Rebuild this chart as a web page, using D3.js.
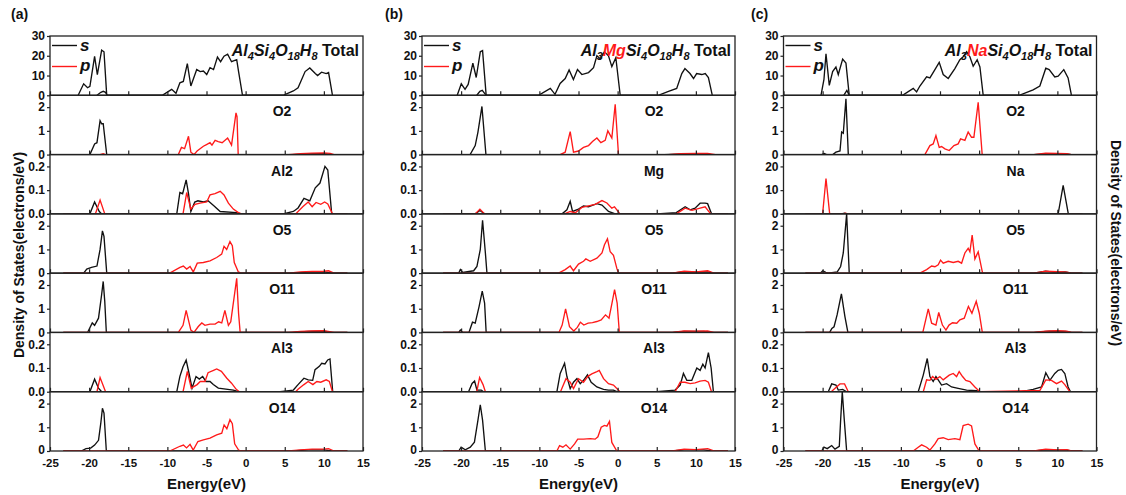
<!DOCTYPE html>
<html>
<head>
<meta charset="utf-8">
<script src="https://cdn.jsdelivr.net/npm/d3@7"></script>
<style>
  body { margin: 0; background: #fff; }
  text { font-family: "Liberation Sans", Arial, sans-serif; font-weight: bold; fill: #111; }
</style>
</head>
<body>
<script>
'use strict';

// ---- axis / labels ----
var energyTicks = [-25, -20, -15, -10, -5, 0, 5, 10, 15];
var panelTags = ['(a)', '(b)', '(c)'];
var siteNames = [
  ['O2', 'Al2', 'O5', 'O11', 'Al3', 'O14'],
  ['O2', 'Mg', 'O5', 'O11', 'Al3', 'O14'],
  ['O2', 'Na', 'O5', 'O11', 'Al3', 'O14']
];
var baselineSpans = [[-23.3, 13], [-22.3, 14.1], [-22.2, 13.2]];
var formulas = [
  [['Al'], ['4', 'sub'], ['Si'], ['4', 'sub'], ['O'], ['18', 'sub'], ['H'], ['8', 'sub']],
  [['Al'], ['3', 'sub'], ['Mg', 'red'], ['Si'], ['4', 'sub'], ['O'], ['18', 'sub'], ['H'], ['8', 'sub']],
  [['Al'], ['3', 'sub'], ['Na', 'red'], ['Si'], ['4', 'sub'], ['O'], ['18', 'sub'], ['H'], ['8', 'sub']]
];

// ---- (a) Al4Si4O18H8 ----
var aTotal = [[-21.4,0],[-20.7,5.8],[-20.2,3.8],[-19.9,4.5],[-19.3,19.7],[-18.95,10.5],[-18.4,22.8],[-18.1,22],[-17.75,0],
  [-10.65,0],[-9.45,3],[-8.9,1],[-8.4,6.3],[-7.96,7],[-7.45,16],[-7.0,4.7],[-6.25,13],[-5.8,12],[-5.4,12.3],[-4.97,10.5],[-4.55,14],[-4.1,13],[-3.6,19.3],[-3.2,17],[-2.76,19.8],[-2.3,20.8],[-1.8,17],[-1.14,18],[-0.9,12],[-0.4,0],
  [4.8,0],[6.1,2.2],[6.7,3.8],[7.6,12],[8.2,13.8],[8.9,11],[9.2,10],[9.7,11.7],[10.3,11],[10.6,11.5],[11.1,0]];
var aTotalLow = [[-19,0],[-18.5,1.5],[-18.2,2],[-17.9,1.5],[-17.7,0]];
var aO2s = [[-19.9,0],[-19.3,0.45],[-19.0,0.5],[-18.6,1.43],[-18.4,1.3],[-18.2,1.3],[-17.75,0],[6,0],[8,0.03],[10,0.04],[11,0]];
var aO2p = [[-18.6,0],[-18.2,0.04],[-17.9,0],[-8.6,0],[-8.2,0.3],[-7.8,0.25],[-7.3,0.77],[-7.0,0.1],[-6.6,0],[-6.2,0.15],[-5.4,0.35],[-5.0,0.42],[-4.55,0.5],[-4.3,0.4],[-3.9,0.6],[-3.5,0.55],[-3.0,0.5],[-2.3,0.7],[-1.8,0.4],[-1.23,1.76],[-1.1,1.6],[-0.95,0],[5.5,0],[7,0.04],[8.5,0.06],[10,0.07],[10.8,0.05],[11.3,0]];
var aAl2s = [[-19.9,0],[-19.3,0.05],[-18.7,0.01],[-18.4,0],[-8.8,0],[-8.4,0.09],[-8.05,0.085],[-7.6,0.143],[-7.3,0.085],[-7.0,0.01],[-6.5,0.05],[-6.1,0.055],[-5.4,0.05],[-4.8,0.055],[-4.1,0.035],[-3.25,0.01],[-1.2,0.005],[-0.55,0],[4.8,0],[6.1,0.01],[6.7,0.025],[7.46,0.065],[8.2,0.055],[8.9,0.11],[9.5,0.13],[10.14,0.2],[10.5,0.185],[11.0,0]];
var aAl2p = [[-19.2,0],[-18.6,0.058],[-18.0,0],[-8.0,0],[-7.53,0.09],[-7.0,0.02],[-6.47,0.04],[-5.83,0.045],[-4.97,0.05],[-4.55,0.08],[-3.91,0.085],[-3.25,0.095],[-2.76,0.08],[-2.2,0.045],[-1.57,0.02],[-0.93,0.005],[-0.5,0],[6.4,0],[7.3,0.03],[8.0,0.05],[8.5,0.03],[9.0,0.048],[9.6,0.04],[10.1,0.05],[10.5,0.042],[11.1,0]];
var aO5s = [[-20.7,0],[-20.3,0.17],[-19.7,0.24],[-19.0,0.3],[-18.6,1.0],[-18.3,1.78],[-18.1,1.55],[-17.75,0],[6,0],[8,0.04],[10,0.05],[11,0]];
var aO5p = [[-9.7,0],[-8.39,0.24],[-7.96,0.3],[-7.53,0.17],[-7.1,0.28],[-6.69,0.05],[-6.18,0.42],[-5.4,0.45],[-4.55,0.52],[-3.7,0.66],[-3.06,0.8],[-2.76,1.13],[-2.42,1.0],[-2.0,1.33],[-1.7,1.16],[-1.45,0.45],[-0.93,0.05],[-0.6,0],[5.5,0],[7,0.05],[8.5,0.07],[10,0.08],[10.6,0.1],[11.3,0]];
var aO11s = [[-20.2,0],[-19.6,0.4],[-19.3,0.3],[-18.8,0.6],[-18.4,1.6],[-18.2,2.15],[-18.0,1.3],[-17.8,0],[6,0],[8,0.04],[10,0.05],[11,0]];
var aO11p = [[-8.6,0],[-8.0,0.3],[-7.6,0.93],[-7.0,0.1],[-6.6,0],[-6.05,0.25],[-5.6,0.4],[-5.2,0.3],[-4.55,0.35],[-3.9,0.35],[-3.45,0.45],[-3.05,0.4],[-2.65,0.93],[-2.2,0.3],[-1.9,0.45],[-1.14,2.28],[-0.9,0.8],[-0.7,0],[5.5,0],[7,0.04],[8.5,0.06],[10,0.07],[11.3,0]];
var aAl3s = [[-19.9,0],[-19.3,0.053],[-18.8,0.015],[-18.4,0],[-8.8,0],[-8.4,0.065],[-8.0,0.105],[-7.6,0.133],[-7.25,0.08],[-6.85,0.015],[-6.34,0.064],[-5.92,0.053],[-5.49,0.064],[-5.06,0.043],[-4.55,0.043],[-4.13,0.03],[-3.49,0.015],[-1.57,0.007],[-0.93,0],[4.4,0],[6.1,0.007],[6.7,0.03],[7.45,0.057],[8.0,0.05],[8.57,0.048],[8.87,0.093],[9.42,0.107],[9.72,0.12],[10.14,0.117],[10.49,0.134],[10.78,0.138],[11.13,0]];
var aAl3p = [[-19.0,0],[-18.6,0.06],[-17.9,0],[-8.0,0],[-7.45,0.086],[-6.95,0.015],[-6.2,0.03],[-5.8,0.043],[-5.2,0.043],[-4.8,0.08],[-4.1,0.09],[-3.7,0.096],[-3.1,0.086],[-2.4,0.057],[-1.8,0.036],[-1.2,0.01],[-0.8,0],[6.4,0],[6.7,0.01],[7.45,0.03],[8.0,0.043],[8.6,0.03],[9.1,0.043],[9.6,0.04],[10.3,0.05],[10.7,0.043],[11.1,0]];
var aO14s = [[-21.0,0],[-20.4,0.1],[-19.8,0.12],[-19.3,0.25],[-18.8,0.45],[-18.5,1.2],[-18.3,1.8],[-18.1,1.6],[-17.8,0],[6,0],[8,0.05],[10,0.05],[11,0]];
var aO14p = [[-9.7,0],[-8.4,0.2],[-7.95,0.25],[-7.55,0.13],[-7.1,0.28],[-6.7,0.04],[-6.1,0.4],[-5.4,0.47],[-4.55,0.54],[-3.7,0.68],[-3.05,0.75],[-2.75,1.1],[-2.4,0.94],[-2.0,1.32],[-1.7,1.15],[-1.4,0.3],[-0.9,0.04],[-0.6,0],[5.5,0],[7,0.05],[8.5,0.08],[10,0.08],[10.6,0.1],[11.3,0]];

// ---- (b) Al3MgSi4O18H8 ----
var bTotal = [[-20.5,0],[-19.98,5.8],[-19.5,3],[-19.1,5.5],[-18.5,16.3],[-18.07,9],[-17.55,22],[-17.26,22.6],[-16.8,0],
  [-10.1,0],[-8.6,3.5],[-8.0,0.5],[-7.35,6],[-6.7,8.5],[-6.2,12.8],[-5.65,8],[-5.13,13],[-4.57,10.5],[-3.72,11.5],[-3.08,14],[-2.65,20],[-2.23,18.5],[-1.68,22],[-1.17,20],[-0.74,14.5],[-0.23,19],[0.33,0],
  [5.2,0],[6.5,2],[7.55,3.5],[8.2,11],[8.6,13.5],[9.25,11],[9.7,8.5],[10.1,11],[10.75,10.5],[11.2,11],[11.6,9],[12.1,0]];
var bTotalLow = [[-18.0,0],[-17.6,2],[-17.3,2.5],[-17.0,1],[-16.8,0]];
var bO2s = [[-18.85,0],[-18.2,0.38],[-17.85,0.95],[-17.34,2.03],[-16.83,0],[6,0],[8.5,0.03],[11,0.03],[12,0]];
var bO2p = [[-7.34,0],[-6.7,0.1],[-6.06,0.97],[-5.64,0.1],[-5.0,0.15],[-4.36,0.3],[-3.72,0.38],[-3.21,0.55],[-2.65,0.7],[-2.14,0.5],[-1.59,0.6],[-1.25,1.0],[-0.74,0.7],[-0.31,2.12],[0.11,0],[6.5,0],[8,0.04],[10,0.05],[11.5,0.05],[12.5,0]];
var bMgS = [[-18.2,0],[-17.6,0.014],[-17.0,0],[-7.1,0],[-6.48,0.017],[-6.06,0.053],[-5.76,0.01],[-5.0,0.02],[-4.36,0.033],[-3.72,0.03],[-2.65,0.043],[-2.0,0.037],[-1.17,0.01],[-0.3,0],[5,0],[7.5,0.005],[8.63,0.03],[9.27,0.017],[9.9,0.024],[10.54,0.045],[11.18,0.045],[11.5,0.043],[12.0,0]];
var bMgP = [[-18.2,0],[-17.6,0.02],[-17.0,0],[-6.8,0],[-6.06,0.01],[-5.4,0.005],[-4.57,0.027],[-3.72,0.034],[-2.87,0.04],[-2.0,0.056],[-1.37,0.046],[-0.74,0.024],[-0.4,0.03],[0.3,0],[7.5,0],[8.63,0.024],[9.5,0.015],[10.54,0.024],[11.18,0.03],[11.9,0]];
var bO5s = [[-20.3,0],[-20.1,0.15],[-19.8,0.03],[-18.4,0.1],[-17.98,0.28],[-17.55,1.0],[-17.26,2.23],[-16.9,0.85],[-16.7,0],[7,0],[8.5,0.06],[10,0.04],[11.5,0.05],[12.3,0]];
var bO5p = [[-7.55,0],[-6.7,0.15],[-6.06,0.3],[-5.64,0.1],[-5.0,0.38],[-4.36,0.5],[-4.06,0.6],[-3.5,0.5],[-2.65,0.63],[-2.0,0.85],[-1.68,1.2],[-1.3,1.45],[-0.95,0.9],[-0.53,0.75],[-0.1,0.2],[0.11,0],[7,0],[8.5,0.08],[10,0.05],[11.5,0.1],[12.3,0]];
var bO11s = [[-20.3,0],[-20.1,0.1],[-19.8,0],[-19.0,0],[-18.55,0.43],[-18.2,0.39],[-17.7,1.1],[-17.3,1.74],[-17.0,1.24],[-16.8,0],[7,0],[8.5,0.04],[11,0.04],[12,0]];
var bO11p = [[-7.5,0],[-7.09,0.31],[-6.65,0.99],[-6.15,0.24],[-5.6,0.06],[-5.15,0.21],[-4.76,0.43],[-4.32,0.31],[-3.77,0.39],[-3.21,0.41],[-2.66,0.46],[-2.1,0.53],[-1.55,0.74],[-1.1,0.6],[-0.72,1.24],[-0.39,1.81],[-0.06,1.24],[0.22,0],[7,0],[8.5,0.06],[10,0.05],[11.5,0.06],[12.3,0]];
var bAl3s = [[-19.05,0],[-18.6,0.035],[-18.28,0.045],[-17.98,0.007],[-17.43,0.007],[-17.13,0],
  [-7.76,0],[-7.34,0.077],[-6.78,0.12],[-6.48,0.064],[-6.06,0.013],[-5.64,0.04],[-5.2,0.055],[-4.78,0.034],[-4.36,0.048],[-3.85,0.071],[-3.38,0.04],[-2.65,0.02],[-1.8,0.01],[-1.17,0.007],[-0.53,0.007],[-0.1,0],
  [5.0,0],[7.35,0.007],[7.99,0.028],[8.41,0.077],[8.84,0.048],[9.48,0.048],[10.12,0.1],[10.54,0.09],[10.89,0.116],[11.18,0.1],[11.6,0.165],[11.95,0.1],[12.24,0]];
var bAl3p = [[-18.0,0],[-17.64,0.06],[-17.2,0.03],[-16.9,0],[-7.3,0],[-6.6,0.055],[-6.06,0.04],[-5.64,0.013],[-5.0,0.055],[-4.36,0.04],[-3.8,0.065],[-3.3,0.075],[-2.65,0.085],[-2.35,0.09],[-1.8,0.055],[-1.17,0.034],[-0.53,0.028],[0.3,0],[7.35,0],[7.99,0.04],[8.6,0.04],[9.27,0.034],[9.9,0.037],[10.54,0.045],[11.18,0.048],[11.6,0.04],[12.0,0]];
var bO14s = [[-20.3,0],[-20.0,0.16],[-19.47,0.05],[-18.83,0.16],[-18.3,0.37],[-17.85,1.3],[-17.55,1.95],[-17.26,1.3],[-16.9,0],[7,0],[8.5,0.05],[11,0.05],[12,0]];
var bO14p = [[-7.76,0],[-7.42,0.23],[-7.0,0.16],[-6.6,0.26],[-6.06,0.08],[-5.5,0.3],[-5.1,0.5],[-4.36,0.5],[-3.5,0.52],[-2.87,0.5],[-2.52,0.6],[-2.1,1.0],[-1.68,1.08],[-1.37,1.05],[-1.04,1.25],[-0.74,0.36],[-0.1,0],[7,0],[8.5,0.08],[10,0.06],[11.5,0.1],[12.3,0]];

// ---- (c) Al3NaSi4O18H8 ----
var cTotal = [[-20.21,0],[-19.83,8],[-19.57,21],[-19.15,5],[-18.72,12],[-18.3,14.3],[-18.0,10.5],[-17.44,18.3],[-17.02,16.3],[-16.6,0],
  [-9.78,0],[-8.42,3.5],[-7.99,1.7],[-7.57,4.7],[-6.71,9.3],[-6.29,8.8],[-5.65,13],[-5.1,16.7],[-4.59,10.5],[-3.95,8.5],[-3.1,13.5],[-2.46,18],[-2.04,19.5],[-1.6,22],[-1.18,19.5],[-0.76,14.7],[-0.25,18],[0.1,14.3],[0.52,0],
  [5.12,0],[6.9,2.7],[7.76,4.7],[8.52,13.7],[8.95,13],[9.67,9.3],[10.1,9.7],[10.82,13],[11.37,8.8],[11.8,0]];
var cTotalLow = [[-17.3,0],[-16.9,2.5],[-16.6,0]];
var cO2s = [[-20.1,0],[-19.8,0.05],[-19.5,0],[-18.7,0],[-18.3,0.1],[-17.78,0.15],[-17.57,0.95],[-17.36,0.9],[-17.02,2.35],[-16.72,0],[7,0],[9,0.04],[11,0.03],[11.8,0]];
var cO2p = [[-6.93,0],[-6.29,0.38],[-5.87,0.45],[-5.52,0.8],[-5.1,0.3],[-4.8,0.34],[-4.37,0.24],[-3.82,0.17],[-3.22,0.38],[-2.68,0.45],[-2.37,0.66],[-1.82,0.6],[-1.4,0.95],[-0.97,0.73],[-0.67,0.73],[-0.12,2.2],[0.39,0],[7,0],[8.5,0.06],[10,0.05],[11.2,0.04],[11.8,0]];
var cNaS = [[-17.6,0],[-17.2,0.3],[-16.8,0],[10.1,0],[10.74,12],[11.4,0]];
var cNaP = [[-20.0,0],[-19.57,14.9],[-19.1,0],[-17.4,0],[-17.1,0.3],[-16.8,0]];
var cO5s = [[-20.3,0],[-19.99,0.1],[-19.6,0.03],[-19.28,0],[-18.13,0.05],[-17.7,0.28],[-17.36,0.85],[-16.93,2.5],[-16.6,0],[7,0],[8.5,0.08],[9.5,0.04],[11,0.05],[11.8,0]];
var cO5p = [[-7.57,0],[-6.71,0.15],[-6.07,0.3],[-5.65,0.27],[-5.23,0.35],[-4.93,0.55],[-4.59,0.42],[-3.95,0.5],[-3.31,0.45],[-2.68,0.5],[-2.24,0.42],[-1.82,0.85],[-1.4,1.05],[-1.18,0.9],[-0.89,1.6],[-0.54,0.6],[-0.12,0.9],[0.1,0.55],[0.44,0],[7,0],[8.5,0.08],[10,0.06],[11.2,0.04],[11.8,0]];
var cO11s = [[-19.1,0],[-18.82,0.17],[-18.54,0.24],[-18.15,0.74],[-17.6,1.63],[-17.15,0.67],[-16.77,0],[7,0],[9,0.05],[11,0.04],[11.8,0]];
var cO11p = [[-7.2,0],[-6.5,0.99],[-6.07,0.39],[-5.52,0.31],[-5.16,0.84],[-4.69,0.31],[-4.24,0.1],[-3.85,0.31],[-3.4,0.41],[-2.86,0.39],[-2.46,0.53],[-1.9,0.6],[-1.37,1.1],[-0.92,0.81],[-0.37,1.31],[0.02,0.81],[0.41,0],[7,0],[8.5,0.05],[10,0.07],[11.2,0.05],[11.8,0]];
var cAl3s = [[-19.28,0],[-18.84,0.033],[-18.3,0.028],[-18.0,0.007],[-17.44,0.01],[-16.93,0],
  [-7.78,0],[-7.14,0.07],[-6.63,0.14],[-6.29,0.064],[-5.87,0.043],[-5.52,0.064],[-5.23,0.05],[-4.8,0.028],[-4.16,0.034],[-3.52,0.02],[-2.68,0.014],[-1.6,0.007],[-0.33,0.004],[0.1,0],
  [5.42,0],[6.9,0.01],[7.98,0.02],[8.52,0.08],[9.04,0.048],[9.67,0.077],[10.1,0.09],[10.53,0.094],[10.95,0.077],[11.37,0.02],[11.68,0]];
var cAl3p = [[-18.9,0],[-18.3,0.018],[-17.78,0.033],[-17.2,0.033],[-16.72,0],
  [-7.14,0],[-6.71,0.05],[-6.29,0.048],[-5.95,0.064],[-5.52,0.052],[-5.02,0.064],[-4.59,0.05],[-3.82,0.07],[-3.31,0.077],[-2.88,0.064],[-2.55,0.085],[-2.12,0.064],[-1.7,0.048],[-1.18,0.043],[-0.54,0.02],[0.1,0],
  [7.76,0.005],[8.52,0.05],[9.25,0.048],[9.89,0.034],[10.53,0.045],[10.95,0.03],[11.59,0]];
var cO14s = [[-20.12,0],[-19.83,0.16],[-19.41,0.1],[-18.84,0.23],[-18.42,0.08],[-17.87,0.2],[-17.7,1.3],[-17.49,2.5],[-17.23,1.3],[-16.93,0],[7,0],[8.5,0.05],[10,0.04],[11.2,0.04],[11.8,0]];
var cO14p = [[-8.42,0],[-7.78,0.16],[-7.35,0.26],[-6.71,0.16],[-6.29,0.04],[-5.65,0.3],[-5.23,0.52],[-4.59,0.56],[-3.95,0.48],[-3.1,0.52],[-2.46,0.48],[-2.04,1.07],[-1.4,1.13],[-0.97,1.06],[-0.54,0.3],[0.01,0],[7,0],[8.5,0.08],[10,0.05],[11.2,0.06],[11.8,0]];

var columns = [
  { total: aTotal, low: aTotalLow, s: [aO2s, aAl2s, aO5s, aO11s, aAl3s, aO14s], p: [aO2p, aAl2p, aO5p, aO11p, aAl3p, aO14p] },
  { total: bTotal, low: bTotalLow, s: [bO2s, bMgS, bO5s, bO11s, bAl3s, bO14s], p: [bO2p, bMgP, bO5p, bO11p, bAl3p, bO14p] },
  { total: cTotal, low: cTotalLow, s: [cO2s, cNaS, cO5s, cO11s, cAl3s, cO14s], p: [cO2p, cNaP, cO5p, cO11p, cAl3p, cO14p] }
];

// y range per site kind
var kinds = {
  tot: { max: 30, ticks: [0, 10, 20, 30], fmt: d3.format('d') },
  O:   { max: 2.5, ticks: [0, 1, 2], fmt: d3.format('d') },
  Al:  { max: 0.25, ticks: [0, 0.1, 0.2], fmt: d3.format('.1f') },
  Na:  { max: 25, ticks: [0, 10, 20], fmt: d3.format('d') }
};
function kindOf(name) {
  if (name === 'Na') return 'Na';
  if (name[0] === 'O') return 'O';
  return 'Al';
}

var W = 1126, H = 495;
var top0 = 36, bottom0 = 451, nRows = 7, rowH = (bottom0 - top0) / nRows;
var colLeft = [50, 422, 783.5], colW = 313;
var RED = '#ff1a1a';
var LW = 1.35;

var svg = d3.select('body').append('svg').attr('width', W).attr('height', H);
var defs = svg.append('defs');

function withBaseline(arr, span) {
  var out = arr.slice();
  if (out[0][0] > span[0]) out.unshift([span[0], 0]);
  if (out[out.length - 1][0] < span[1]) out.push([span[1], 0]);
  return out;
}

function styleAxis(sel, size) {
  sel.selectAll('text').attr('font-size', size).attr('fill', '#111')
    .attr('font-family', '"Liberation Sans", Arial, sans-serif').attr('font-weight', 'bold');
  sel.selectAll('line').attr('stroke', '#222').attr('stroke-width', 1.2);
  sel.select('.domain').remove();
}

columns.forEach(function(col, ci) {
  var L = colLeft[ci];
  var x = d3.scaleLinear().domain([-25, 15]).range([L, L + colW]);

  for (var r = 0; r < nRows; r++) {
    var y0 = top0 + r * rowH, y1 = y0 + rowH;
    var kind = r === 0 ? 'tot' : kindOf(siteNames[ci][r - 1]);
    var k = kinds[kind];
    var y = d3.scaleLinear().domain([0, k.max]).range([y1, y0]);
    var line = d3.line().x(function(d) { return x(d[0]); }).y(function(d) { return y(d[1]); });

    var clipId = 'clip-' + ci + '-' + r;
    defs.append('clipPath').attr('id', clipId)
      .append('rect').attr('x', L).attr('y', y0).attr('width', colW).attr('height', rowH);

    var g = svg.append('g');
    var plot = g.append('g').attr('clip-path', 'url(#' + clipId + ')');

    if (r === 0) {
      [col.low, col.total].forEach(function(arr) {
        plot.append('path').datum(arr).attr('d', line)
          .attr('fill', 'none').attr('stroke', '#111').attr('stroke-width', LW);
      });
    } else {
      var span = baselineSpans[ci];
      plot.append('path').datum(withBaseline(col.s[r - 1], span)).attr('d', line)
        .attr('fill', 'none').attr('stroke', '#111').attr('stroke-width', LW);
      plot.append('path').datum(withBaseline(col.p[r - 1], span)).attr('d', line)
        .attr('fill', 'none').attr('stroke', RED).attr('stroke-width', LW);
    }

    // x axis: ticks point inward, labels only under the last panel
    var xa = g.append('g').attr('transform', 'translate(0,' + y1 + ')')
      .call(d3.axisBottom(x).tickValues(energyTicks).tickSizeInner(-4).tickSizeOuter(0).tickPadding(8)
        .tickFormat(r === nRows - 1 ? function(d) { return String(d); } : function() { return ''; }));
    styleAxis(xa, 11.5);

    var ya = g.append('g').attr('transform', 'translate(' + L + ',0)')
      .call(d3.axisLeft(y).tickValues(k.ticks).tickSizeInner(3).tickSizeOuter(0).tickPadding(2).tickFormat(k.fmt));
    styleAxis(ya, 12);
    if (r === nRows - 1) ya.selectAll('text').filter(function(d) { return d === 0; }).attr('dy', '0.2em');

    g.append('rect').attr('x', L).attr('y', y0).attr('width', colW).attr('height', rowH)
      .attr('fill', 'none').attr('stroke', '#222').attr('stroke-width', 1.3);

    if (r > 0) {
      g.append('text').attr('x', L + 232).attr('y', y0 + 21).attr('text-anchor', 'middle')
        .attr('font-size', 14).text(siteNames[ci][r - 1]);
    } else {
      // legend
      var lg = g.append('g');
      lg.append('line').attr('x1', L + 2).attr('x2', L + 27).attr('y1', 45.5).attr('y2', 45.5)
        .attr('stroke', '#111').attr('stroke-width', 1.4);
      lg.append('text').attr('x', L + 30).attr('y', 51).attr('font-size', 17).attr('font-style', 'italic').text('s');
      lg.append('line').attr('x1', L + 2).attr('x2', L + 27).attr('y1', 66.5).attr('y2', 66.5)
        .attr('stroke', RED).attr('stroke-width', 1.4);
      lg.append('text').attr('x', L + 30).attr('y', 71).attr('font-size', 17).attr('font-style', 'italic').text('p');

      // formula title
      var t = g.append('text').attr('x', L + 309).attr('y', 56).attr('text-anchor', 'end').attr('font-size', 16);
      var shifted = false;
      formulas[ci].forEach(function(seg) {
        var ts = t.append('tspan').text(seg[0]).attr('font-style', 'italic');
        if (seg[1] === 'sub') {
          ts.attr('font-size', 11).attr('dy', shifted ? 0 : 4);
          shifted = true;
        } else {
          if (shifted) ts.attr('dy', -4);
          shifted = false;
          if (seg[1] === 'red') ts.attr('fill', RED);
        }
      });
      t.append('tspan').text(' Total').attr('dy', shifted ? -4 : 0);
    }
  }

  svg.append('text').attr('x', L + colW / 2).attr('y', 489).attr('text-anchor', 'middle')
    .attr('font-size', 15).text('Energy(eV)');
});

svg.selectAll('.tag').data(panelTags).enter().append('text')
  .attr('x', function(d, i) { return [11, 385, 751][i]; }).attr('y', 19)
  .attr('font-size', 14).text(function(d) { return d; });

svg.append('text').attr('transform', 'translate(24,255) rotate(-90)').attr('text-anchor', 'middle')
  .attr('font-size', 14).text('Density of States(electrons/eV)');
svg.append('text').attr('transform', 'translate(1111,243) rotate(90)').attr('text-anchor', 'middle')
  .attr('font-size', 14).text('Density of States(electrons/eV)');
</script>
</body>
</html>
